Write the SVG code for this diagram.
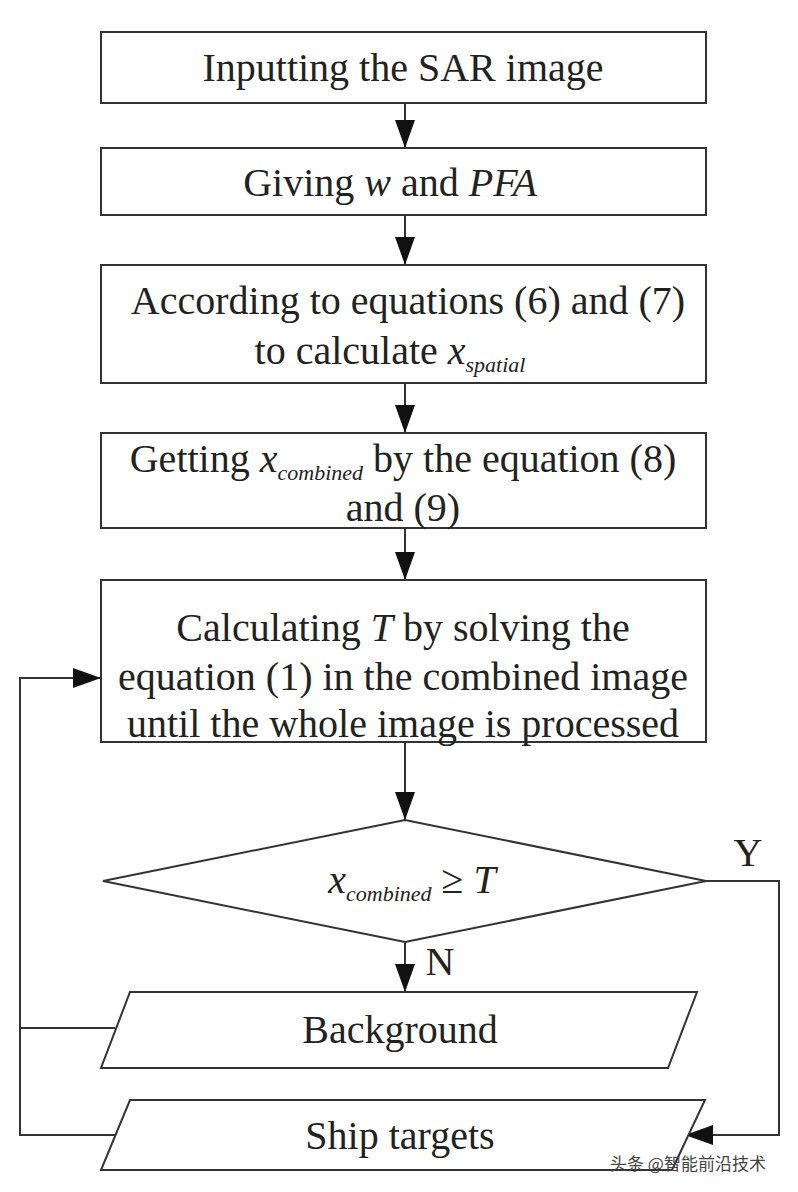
<svg xmlns="http://www.w3.org/2000/svg" width="798" height="1192" viewBox="0 0 798 1192">
<style>
.b{fill:#fff;stroke:#333;stroke-width:2}
.t{font-family:"Liberation Serif",serif;font-size:40px;fill:#222;text-anchor:middle}
.c{fill:none;stroke:#333;stroke-width:2}
.i{font-style:italic}
</style>
<defs><marker id="a" markerWidth="28" markerHeight="20" refX="28" refY="10" orient="auto" markerUnits="userSpaceOnUse"><path d="M0,0L28,10L0,20Z" fill="#111"/></marker></defs>
<rect width="798" height="1192" fill="#fff"/>
<g id="connectors">
<path class="c" d="M405,103V148" marker-end="url(#a)"/>
<path class="c" d="M405,215V265" marker-end="url(#a)"/>
<path class="c" d="M405,383V433" marker-end="url(#a)"/>
<path class="c" d="M405,528V580" marker-end="url(#a)"/>
<path class="c" d="M405,742V820" marker-end="url(#a)"/>
<path class="c" d="M405,942V992" marker-end="url(#a)"/>
<path class="c" d="M706,881H779V1135H685" marker-end="url(#a)"/>
<path class="c" d="M115,1028H20"/>
<path class="c" d="M115,1135H20V678H101" marker-end="url(#a)"/>
<text class="t" x="440" y="975" font-size="30">N</text>
<text class="t" x="748" y="866" font-size="30">Y</text>
</g>
<g id="n1"><rect class="b" x="101" y="32" width="605" height="71"/><text class="t" x="403" y="81">Inputting the SAR image</text></g>
<g id="n2"><rect class="b" x="101" y="148" width="605" height="67"/><text class="t" x="390" y="196">Giving <tspan class="i">w</tspan> and <tspan class="i">PFA</tspan></text></g>
<g id="n3"><rect class="b" x="101" y="265" width="605" height="118"/><text class="t" x="408" y="314">According to equations (6) and (7)</text><text class="t" x="390" y="364">to calculate <tspan class="i">x</tspan><tspan class="i" font-size="22" dy="8">spatial</tspan></text></g>
<g id="n4"><rect class="b" x="101" y="433" width="605" height="95"/><text class="t" x="403" y="472">Getting <tspan class="i">x</tspan><tspan class="i" font-size="22" dy="8">combined</tspan><tspan dy="-8"> by the equation (8)</tspan></text><text class="t" x="403" y="521">and (9)</text></g>
<g id="n5"><rect class="b" x="101" y="580" width="605" height="162"/><text class="t" x="403" y="641">Calculating <tspan class="i">T</tspan> by solving the</text><text class="t" x="403" y="690">equation (1) in the combined image</text><text class="t" x="403" y="737">until the whole image is processed</text></g>
<g id="n6"><path class="b" d="M103,881L405,820L706,881L405,942Z"/><text class="t" x="412" y="893"><tspan class="i">x</tspan><tspan class="i" font-size="22" dy="8">combined</tspan><tspan dy="-8"> ≥ </tspan><tspan class="i">T</tspan></text></g>
<g id="n7"><path class="b" d="M130,992H697L668,1068H101Z"/><text class="t" x="400" y="1043">Background</text></g>
<g id="n8"><path class="b" d="M130,1100H705L672,1170H101Z"/><text class="t" x="400" y="1149">Ship targets</text></g>
<text x="688" y="1170" font-family="Noto Sans CJK SC,sans-serif" font-size="17" fill="#444" text-anchor="middle">头条 @智能前沿技术</text>
</svg>
